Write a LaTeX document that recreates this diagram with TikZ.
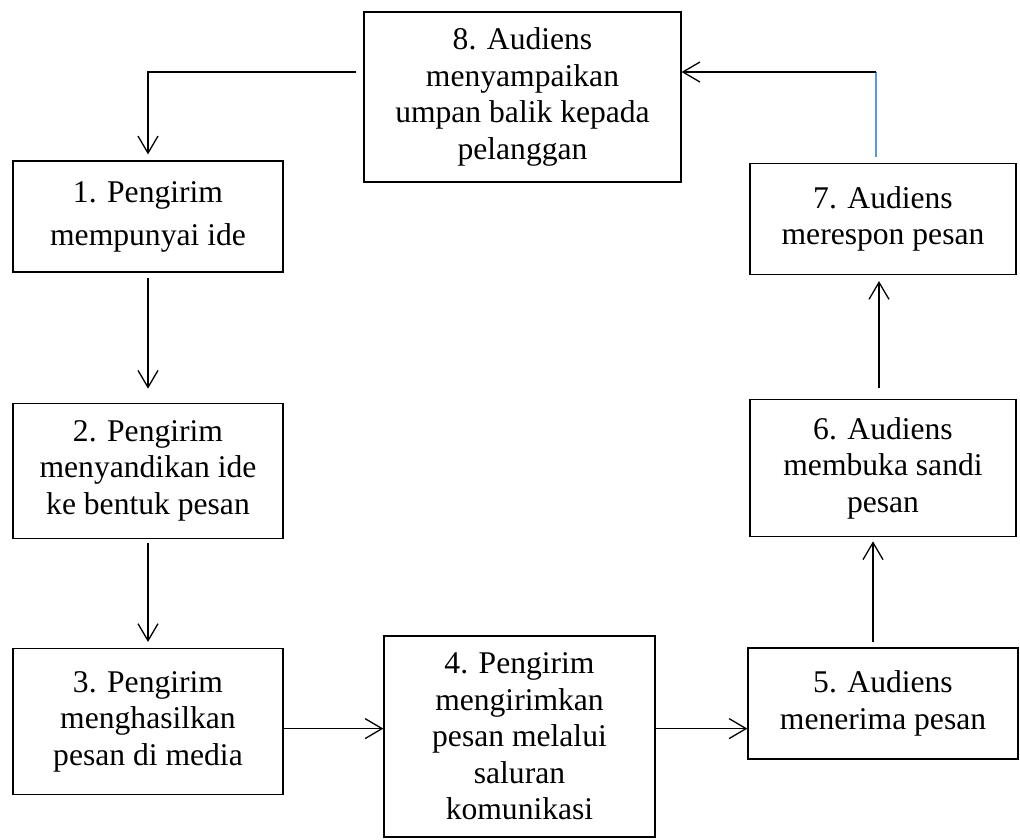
\documentclass[tikz,border=0pt]{standalone}
\usepackage{fontspec}
\setmainfont{Liberation Serif}
\usepackage{xcolor}
\definecolor{linkblue}{HTML}{5B9BD5}
\usepackage{tikz}
\usetikzlibrary{
  arrows.meta,
  positioning
}

\begin{document}
\begin{tikzpicture}[
  x=1pt, y=1pt,
  stepbox/.style={rectangle, draw, line width=1.3pt, minimum width=270pt, inner sep=2pt, align=center, font=\fontsize{31.6}{36.5}\selectfont},
  arr/.style={-{Straight Barb[length=17pt, width=20pt]}, line width=1.3pt},
  link/.style={line width=1.3pt, linkblue},
]
\useasboundingbox (0,0) rectangle (1020,-839);

% Kotak tahapan
\node[stepbox, minimum width=317pt, minimum height=170pt] (n8) at (522.5,-97) {8. Audiens\\ menyampaikan\\ umpan balik kepada\\ pelanggan};
\node[stepbox, minimum height=111pt, font=\fontsize{31.6}{43}\selectfont] (n1) at (148,-216.5) {1. Pengirim\\ mempunyai ide};
\node[stepbox, minimum height=135pt, below=130pt of n1] (n2) {2. Pengirim\\ menyandikan ide\\ ke bentuk pesan};
\node[stepbox, minimum height=146pt, below=109pt of n2] (n3) {3. Pengirim\\ menghasilkan\\ pesan di media};
\node[stepbox, minimum width=271pt, minimum height=201pt] (n4) at (519.5,-736.5) {4. Pengirim\\ mengirimkan\\ pesan melalui\\ saluran\\ komunikasi};
\node[stepbox, minimum height=111pt] (n5) at (883,-703.5) {5. Audiens\\ menerima pesan};
\node[stepbox, minimum width=266pt, minimum height=137pt, above=110pt of n5] (n6) {6. Audiens\\ membuka sandi\\ pesan};
\node[stepbox, minimum width=266pt, minimum height=111pt, above=124pt of n6] (n7) {7. Audiens\\ merespon pesan};

% Titik bantu
\coordinate (l8) at ([yshift=25pt]n8.west);
\coordinate (r8) at ([yshift=25pt]n8.east);
\coordinate (t7) at ([xshift=-7pt]n7.north);
\coordinate (m3) at ([yshift=-7pt]n3.east);

% Alur pengirim
\draw[arr, shorten <=7pt, shorten >=6pt] (l8) -| (n1.north);
\draw[arr, shorten <=5pt, shorten >=14pt] (n1) -- (n2);
\draw[arr, shorten <=4pt, shorten >=6pt] (n2) -- (n3);
\draw[arr] (m3) -- (m3 -| n4.west);
\draw[arr] (m3 -| n4.east) -- (m3 -| n5.west);

% Alur audiens
\draw[arr, shorten <=5pt, shorten >=4pt] ([xshift=-10pt]n5.north) -- ([xshift=-10pt]n6.south);
\draw[arr, shorten <=11pt, shorten >=6pt] ([xshift=-4pt]n6.north) -- ([xshift=-4pt]n7.south);
\draw[link, shorten <=6pt] (t7) -- (t7 |- r8);
\draw[arr] (t7 |- r8) -- (r8);

\end{tikzpicture}
\end{document}
